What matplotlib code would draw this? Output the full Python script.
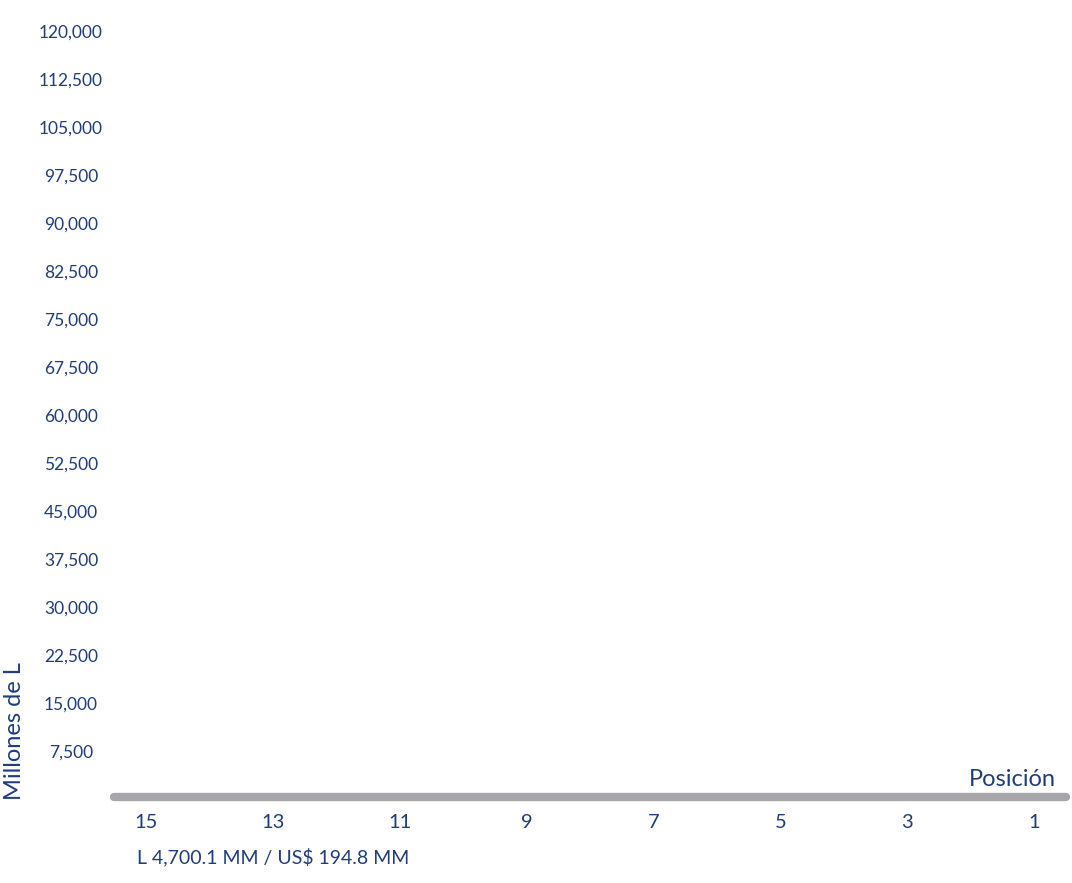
import matplotlib.pyplot as plt
import numpy as np

# ranking positions (axis runs from 15 on the left to 1 on the right)
positions = [15, 13, 11, 9, 7, 5, 3, 1]
y_ticks = [7500, 15000, 22500, 30000, 37500, 45000, 52500, 60000, 67500,
           75000, 82500, 90000, 97500, 105000, 112500, 120000]
total_label = "L 4,700.1 MM / US$ 194.8 MM"

navy = '#1f3d7a'
gray = '#a7a6ab'

plt.rcParams['font.family'] = ['Lato', 'DejaVu Sans']

fig = plt.figure(figsize=(10.72, 8.83), dpi=100)
ax = fig.add_axes([114 / 1072, 86 / 883, 952 / 1072, 766 / 883])

ax.set_xlim(15.5, 0.5)
ax.set_ylim(300, 120000)

ax.set_xticks(positions)
ax.set_xticklabels([str(p) for p in positions])
ax.set_yticks(y_ticks)
ax.set_yticklabels(['{:,}'.format(v) for v in y_ticks])

ax.tick_params(axis='y', length=0, pad=31, labelsize=12.5, labelcolor=navy)
ax.tick_params(axis='x', length=0, pad=12, labelsize=14.5, labelcolor=navy)
for lbl in ax.get_yticklabels():
    lbl.set_horizontalalignment('center')

for side in ['top', 'right', 'left']:
    ax.spines[side].set_visible(False)
ax.spines['bottom'].set_color(gray)
ax.spines['bottom'].set_linewidth(6)
ax.spines['bottom'].set_capstyle('round')

ax.text(0.9895, 0.023, 'Posición', transform=ax.transAxes, ha='right',
        va='center', fontsize=17, color=navy)

fig.text(15 / 1072, 83 / 883, 'Millones de L', rotation=90, ha='center',
         va='bottom', fontsize=17, color=navy)
fig.text(137 / 1072, 1 - 857 / 883, total_label, ha='left', va='center',
         fontsize=14, color=navy)

fig.savefig('out.png', dpi=100)
